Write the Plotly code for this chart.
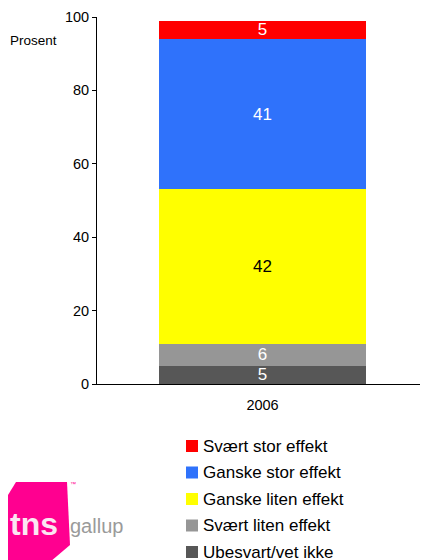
import plotly.graph_objects as go

years = ["2006"]
series_names = ["Ubesvart/vet ikke", "Svært liten effekt", "Ganske liten effekt",
                "Ganske stor effekt", "Svært stor effekt"]
values_2006 = [5, 6, 42, 41, 5]
colors = ["#575757", "#969696", "#FFFF00", "#2F72FB", "#FF0000"]
text_colors = ["white", "white", "black", "white", "white"]
y_ticks = [0, 20, 40, 60, 80, 100]

# page is rendered with an 8px body margin
OFF = 8
W, H = 428, 560
# desired plot area in page pixels
PX0, PX1, PY0, PY1 = 97, 428, 17, 384
L, T = PX0 - OFF, PY0 - OFF
R = W - (PX1 - OFF)
B = H - (PY1 - OFF)
PW, PH = PX1 - PX0, PY1 - PY0

def px(x):
    return (x - PX0) / PW

def py(y):
    return (PY1 - y) / PH

FONT = "Liberation Sans, Arial"

fig = go.Figure()
for name, v, c, tc in zip(series_names, values_2006, colors, text_colors):
    fig.add_trace(go.Bar(
        x=years, y=[v], name=name, marker=dict(color=c, line=dict(width=0)),
        width=0.625, text=[str(v)], textposition="inside",
        insidetextanchor="middle", textangle=0,
        textfont=dict(color=tc, size=17, family=FONT),
        showlegend=False, hoverinfo="skip"))

shapes = []
annotations = []

# manual legend (top item first)
leg_y0 = 446
for i, (name, c) in enumerate(zip(series_names[::-1], colors[::-1])):
    yc = leg_y0 + i * 26.5
    shapes.append(dict(type="rect", xref="paper", yref="paper",
                       x0=px(186), x1=px(198), y0=py(yc - 6), y1=py(yc + 6),
                       fillcolor=c, line=dict(width=0)))
    annotations.append(dict(text=name, xref="paper", yref="paper",
                            x=px(201), y=py(yc), xanchor="left", yanchor="middle",
                            showarrow=False,
                            font=dict(size=17, color="black", family=FONT)))

# axis title
annotations.append(dict(text="Prosent", xref="paper", yref="paper",
                        x=px(8), y=py(40), xanchor="left", yanchor="middle",
                        showarrow=False,
                        font=dict(size=13.5, color="black", family=FONT)))

# logo
pts = [(0, 508), (16, 482), (67, 482), (70, 545), (50, 562), (0, 562)]
path = "M " + " L ".join(f"{px(x)},{py(y)}" for x, y in pts) + " Z"
shapes.append(dict(type="path", xref="paper", yref="paper", path=path,
                   fillcolor="#FF0090", line=dict(width=0), layer="above"))
annotations.append(dict(text="<b>tns</b>", xref="paper", yref="paper",
                        x=px(8), y=py(524), xanchor="left", yanchor="middle",
                        showarrow=False,
                        font=dict(size=32, color="#FBE6F2", family=FONT)))
annotations.append(dict(text="gallup", xref="paper", yref="paper",
                        x=px(68), y=py(526), xanchor="left", yanchor="middle",
                        showarrow=False,
                        font=dict(size=20, color="#9A9A9A",
                                  family="Liberation Sans Narrow, Liberation Sans, Arial")))
annotations.append(dict(text="™", xref="paper", yref="paper",
                        x=px(68), y=py(484), xanchor="left", yanchor="middle",
                        showarrow=False,
                        font=dict(size=6, color="#FF0090", family=FONT)))

fig.update_layout(
    width=W, height=H, barmode="stack",
    margin=dict(l=L, r=R, t=T, b=B, autoexpand=False),
    paper_bgcolor="white", plot_bgcolor="white",
    showlegend=False,
    uniformtext=dict(minsize=17, mode="show"),
    font=dict(family=FONT, size=14.5, color="black"),
    xaxis=dict(range=[-0.5, 0.5], showline=True, linecolor="black", linewidth=1,
               ticks="", showgrid=False, zeroline=False, tickfont=dict(size=14.5),
               ticklabelstandoff=8),
    yaxis=dict(range=[0, 100], tickvals=y_ticks, showline=True, linecolor="black",
               linewidth=1, ticks="outside", ticklen=4, tickcolor="black",
               showgrid=False, zeroline=False, tickfont=dict(size=14.5)),
    shapes=shapes, annotations=annotations,
)

fig.write_html("out.html")
